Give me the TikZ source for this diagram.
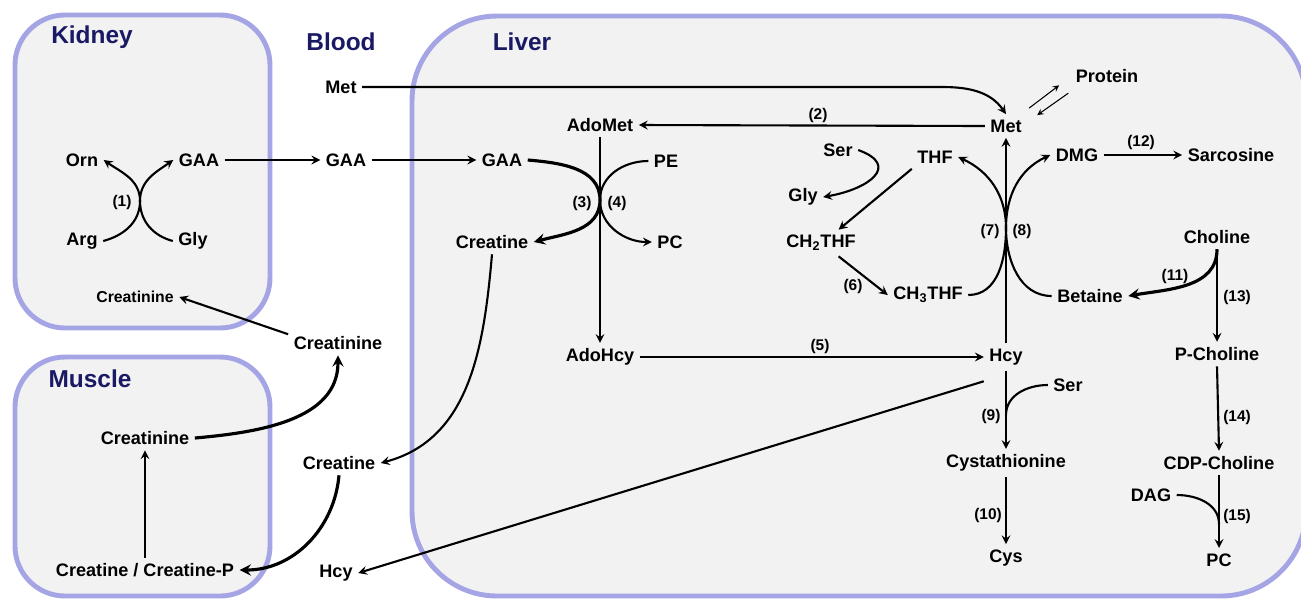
\documentclass[tikz,border=0pt]{standalone}
\usepackage{fontspec}
\setmainfont{Liberation Sans}
\usepackage{tikz}
\usetikzlibrary{arrows}
\definecolor{organline}{RGB}{165,165,230}
\definecolor{organfill}{RGB}{242,242,242}
\definecolor{organtext}{RGB}{25,25,100}

\begin{document}
\begin{tikzpicture}[x=0.02cm, y=0.02cm,
                    organ/.style={draw=organline, fill=organfill, line width=2.8pt, rounded corners=1cm},
                    organname/.style={font=\fontsize{13.9}{16}\selectfont\bfseries, text=organtext},
                    metab/.style={font=\fontsize{10.3}{12}\selectfont\bfseries, inner sep=3pt},
                    smallmetab/.style={font=\fontsize{9}{11}\selectfont\bfseries, inner sep=3pt},
                    enzyme/.style={font=\fontsize{8.8}{10}\selectfont\bfseries, inner sep=1pt},
                    flowarr/.style={>=stealth, ->, line width=1.2pt},
                    thickarr/.style={>=stealth, ->, line width=1.8pt},
                    thinarr/.style={>=stealth, ->, line width=0.6pt},
                    joinline/.style={line width=1.2pt}]

                    \useasboundingbox (0,0) rectangle (1301,-600);

                    \draw[organ] (15,-15) rectangle (270,-328);
                    \draw[organ] (15,-357) rectangle (270,-596);
                    \draw[organ, rounded corners=1.7cm] (412,-16) rectangle (1306,-596);

                    % kidney
                    \node[organname] (kidneyname) at (92,-37) {Kidney};
                    \node[metab] (orn) at (82,-160) {Orn};
                    \node[metab] (gaaK) at (199,-160) {GAA};
                    \node[metab] (arg) at (82,-241) {Arg};
                    \node[metab] (glyK) at (193,-241) {Gly};
                    \node[enzyme] (r1) at (122,-202) {(1)};
                    \node[smallmetab] (crnK) at (135,-297) {Creatinine};
                    \coordinate (cross1) at (140,-201);

                    % blood
                    \node[organname] (bloodname) at (341,-42) {Blood};
                    \node[metab] (metB) at (341,-87) {Met};
                    \node[metab] (gaaB) at (346,-160) {GAA};
                    \node[metab] (crnB) at (338,-343) {Creatinine};
                    \node[metab] (creB) at (339,-463) {Creatine};
                    \node[metab] (hcyB) at (336,-573) {Hcy};

                    % muscle
                    \node[organname] (musclename) at (90,-379) {Muscle};
                    \node[metab] (crnM) at (145,-438) {Creatinine};
                    \node[metab] (creM) at (145,-570) {Creatine / Creatine-P};

                    % liver
                    \node[organname] (livername) at (522,-42) {Liver};
                    \node[metab] (adomet) at (600,-125) {AdoMet};
                    \node[metab] (gaaL) at (502,-160) {GAA};
                    \node[metab] (pe) at (666,-161) {PE};
                    \node[metab] (creL) at (492,-242) {Creatine};
                    \node[metab] (pcA) at (670,-242) {PC};
                    \node[enzyme] (r3) at (582,-203) {(3)};
                    \node[enzyme] (r4) at (617,-203) {(4)};
                    \coordinate (cross34) at (600,-200);
                    \node[metab] (adohcy) at (600,-357) {AdoHcy};
                    \node[enzyme] (r5) at (820,-346) {(5)};
                    \node[metab] (hcyL) at (1006,-357) {Hcy};
                    \node[metab] (metL) at (1006,-126) {Met};
                    \node[enzyme] (r2) at (818,-115) {(2)};
                    \node[metab] (protein) at (1107,-76) {Protein};
                    \node[metab] (serA) at (838,-150) {Ser};
                    \node[metab] (thf) at (935,-157) {THF};
                    \node[metab] (glyL) at (803,-197) {Gly};
                    \node[metab] (ch2thf) at (821,-243) {CH\textsubscript{2}THF};
                    \node[enzyme] (r6) at (853,-286) {(6)};
                    \node[metab] (ch3thf) at (928,-295) {CH\textsubscript{3}THF};
                    \node[enzyme] (r7) at (990,-231) {(7)};
                    \node[enzyme] (r8) at (1022,-231) {(8)};
                    \coordinate (cross78) at (1006,-228);
                    \node[metab] (dmg) at (1077,-155) {DMG};
                    \node[enzyme] (r12) at (1141,-142) {(12)};
                    \node[metab] (sarcosine) at (1231,-155) {Sarcosine};
                    \node[metab] (choline) at (1217,-237) {Choline};
                    \node[metab] (betaine) at (1090,-296) {Betaine};
                    \node[enzyme] (r11) at (1175,-276) {(11)};
                    \node[enzyme] (r13) at (1237,-297) {(13)};
                    \node[metab] (pchol) at (1217,-354) {P-Choline};
                    \node[metab] (serB) at (1068,-385) {Ser};
                    \node[enzyme] (r9) at (991,-416) {(9)};
                    \coordinate (join9) at (1006,-415);
                    \node[metab] (cysta) at (1006,-463) {Cystathionine};
                    \node[enzyme] (r10) at (988,-515) {(10)};
                    \node[metab] (cys) at (1006,-558) {Cys};
                    \node[enzyme] (r14) at (1237,-417) {(14)};
                    \node[metab] (cdpchol) at (1219,-463) {CDP-Choline};
                    \node[metab] (dag) at (1151,-495) {DAG};
                    \node[enzyme] (r15) at (1237,-516) {(15)};
                    \coordinate (join15) at (1219,-524);
                    \node[metab] (pcB) at (1219,-560) {PC};

                    \draw[flowarr] (arg.east) to[out=15,in=-90] (cross1) to[out=90,in=-35] (orn.east);
                    \draw[flowarr] (glyK.west) to[out=165,in=-90] (cross1) to[out=90,in=-145] (gaaK.west);
                    \draw[flowarr] (gaaK) -- (gaaB);
                    \draw[flowarr] (gaaB) -- (gaaL);
                    \draw[flowarr] (crnB.170) -- (crnK.east);
                    \draw[thickarr] (crnM.east) to[out=5,in=-90] (crnB.south);
                    \draw[flowarr] (creM.north) -- (crnM.south);
                    \draw[flowarr] (creL.south) to[out=-95,in=15] (creB.east);
                    \draw[thickarr] (creB.south) to[out=-95,in=0] (creM.east);
                    \draw[flowarr] ([yshift=-6pt]hcyL.south west) -- (hcyB.east);
                    \draw[flowarr] (metB.east) -- +(580,0) to[out=0,in=125] (metL.north);

                    \draw[flowarr] (metL.west) -- (adomet.east);
                    \draw[flowarr] (adomet.south) -- (adohcy.north);
                    \draw[thickarr] (gaaL.east) to[out=-5,in=90] (cross34) to[out=-90,in=15] (creL.east);
                    \draw[flowarr] (pe.west) to[out=180,in=90] (cross34) to[out=-90,in=180] (pcA.west);
                    \draw[flowarr] (adohcy.east) -- (hcyL.west);
                    \draw[flowarr] (hcyL.north) -- (metL.south);
                    \draw[thinarr] ([xshift=1.1pt,yshift=3.4pt]metL.north east) -- ([xshift=-6.3pt,yshift=1.7pt]protein.south west);
                    \draw[thinarr] ([xshift=-1.1pt,yshift=-2.8pt]protein.south west) -- ([xshift=5.7pt,yshift=-0.6pt]metL.north east);

                    \draw[flowarr] (serA.east) to[out=-20,in=10,looseness=2] (glyL.east);
                    \draw[flowarr] (thf.south west) -- ([xshift=10pt]ch2thf.north);
                    \draw[flowarr] ([xshift=10pt]ch2thf.south) -- (ch3thf.west);
                    \draw[flowarr] (ch3thf.east) to[out=0,in=-90] (cross78) to[out=90,in=-25] (thf.east);
                    \draw[flowarr] (betaine.west) to[out=180,in=-90] (cross78) to[out=90,in=-155] (dmg.west);
                    \draw[flowarr] (dmg.east) -- (sarcosine.west);
                    \draw[thickarr] (choline.south) to[out=-90,in=10] (betaine.east);
                    \draw[flowarr] (choline.south) -- (pchol.north);
                    \draw[flowarr] (pchol.south) -- (cdpchol.north);
                    \draw[flowarr] (cdpchol.south) -- (pcB.north);
                    \draw[joinline] (dag.east) to[out=0,in=90] (join15);
                    \draw[flowarr] (hcyL.south) -- (cysta.north);
                    \draw[joinline] (serB.west) to[out=180,in=90] (join9);
                    \draw[flowarr] (cysta.south) -- (cys.north);
                    \end{tikzpicture}
\end{document}
